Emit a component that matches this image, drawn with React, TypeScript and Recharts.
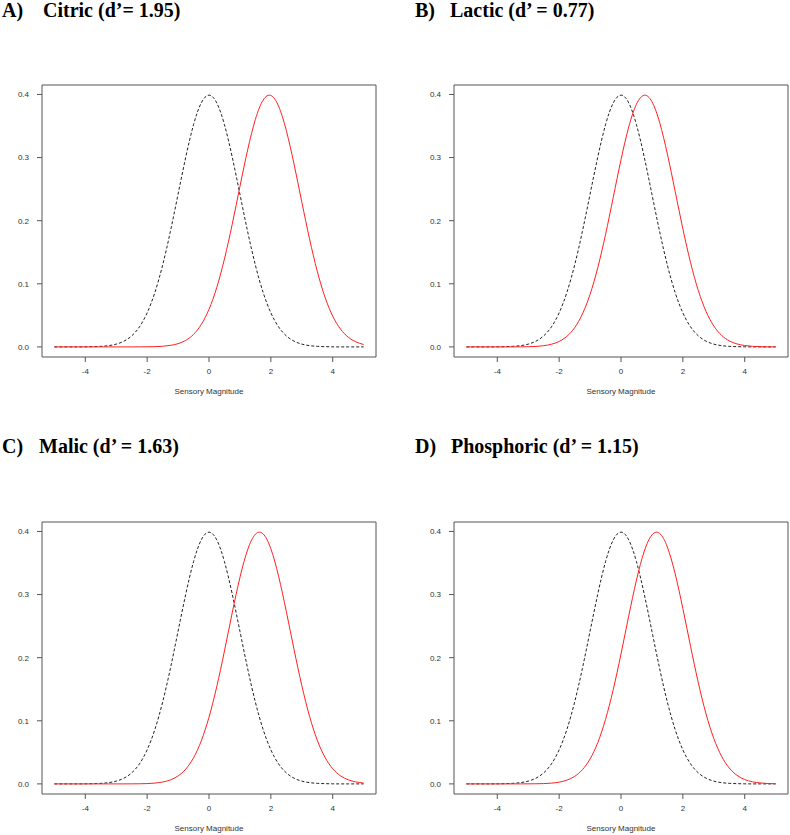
import React from "react";
import { LineChart, Line, XAxis, YAxis, ReferenceArea } from "recharts";

// sensory magnitude grid (x positions read at 0.25 steps)
const magnitudes = [
  -5, -4.75, -4.5, -4.25, -4, -3.75, -3.5, -3.25, -3, -2.75, -2.5, -2.25, -2, -1.75, -1.5, -1.25, -1, -0.75, -0.5, -0.25,
  0, 0.25, 0.5, 0.75, 1, 1.25, 1.5, 1.75, 2, 2.25, 2.5, 2.75, 3, 3.25, 3.5, 3.75, 4, 4.25, 4.5, 4.75, 5,
];

// reference (water) distribution, black dashed, same in all panels
const referenceDensity = [
  0, 0, 0, 0, 0.0001, 0.0004, 0.0009, 0.002, 0.0044, 0.0091, 0.0175, 0.0317, 0.054, 0.0863, 0.1295, 0.1826, 0.242, 0.3011, 0.3521, 0.3867,
  0.3989, 0.3867, 0.3521, 0.3011, 0.242, 0.1826, 0.1295, 0.0863, 0.054, 0.0317, 0.0175, 0.0091, 0.0044, 0.002, 0.0009, 0.0004, 0.0001, 0, 0, 0, 0,
];

const citricDensity = [
  0, 0, 0, 0, 0, 0, 0, 0, 0, 0, 0, 0.0001, 0.0002, 0.0004, 0.001, 0.0024, 0.0051, 0.0104, 0.0198, 0.0355,
  0.0596, 0.094, 0.1394, 0.1942, 0.2541, 0.3123, 0.3605, 0.391, 0.3984, 0.3814, 0.3429, 0.2897, 0.2299, 0.1714, 0.12, 0.079, 0.0488, 0.0283, 0.0155, 0.0079, 0.0038,
];

const lacticDensity = [
  0, 0, 0, 0, 0, 0, 0, 0.0001, 0.0003, 0.0008, 0.0019, 0.0042, 0.0086, 0.0167, 0.0303, 0.0519, 0.0833, 0.1257, 0.1781, 0.2371,
  0.2966, 0.3485, 0.3846, 0.3988, 0.3885, 0.3555, 0.3056, 0.2468, 0.1872, 0.1334, 0.0894, 0.0562, 0.0332, 0.0184, 0.0096, 0.0047, 0.0022, 0.0009, 0.0004, 0.0001, 0.0001,
];

const malicDensity = [
  0, 0, 0, 0, 0, 0, 0, 0, 0, 0, 0.0001, 0.0002, 0.0005, 0.0013, 0.003, 0.0063, 0.0126, 0.0235, 0.0413, 0.0681,
  0.1057, 0.1539, 0.2107, 0.2709, 0.3271, 0.3711, 0.3956, 0.3961, 0.3725, 0.3291, 0.2732, 0.2131, 0.1561, 0.1074, 0.0694, 0.0422, 0.0241, 0.0129, 0.0065, 0.0031, 0.0014,
];

const phosphoricDensity = [
  0, 0, 0, 0, 0, 0, 0, 0, 0.0001, 0.0002, 0.0005, 0.0012, 0.0028, 0.006, 0.0119, 0.0224, 0.0396, 0.0656, 0.1023, 0.1497,
  0.2059, 0.2661, 0.323, 0.3683, 0.3945, 0.3969, 0.3752, 0.3332, 0.278, 0.2179, 0.1604, 0.1109, 0.0721, 0.044, 0.0252, 0.0136, 0.0069, 0.0033, 0.0015, 0.0006, 0.0002,
];

const xTicks = [-4, -2, 0, 2, 4];
const yTicks = [0, 0.1, 0.2, 0.3, 0.4];

const panels = [
  { letter: "A)", title: "Citric (d\u2019= 1.95)", density: citricDensity, left: 0, top: 0, titleX: 43 },
  { letter: "B)", title: "Lactic (d\u2019 = 0.77)", density: lacticDensity, left: 412, top: 0, titleX: 450 },
  { letter: "C)", title: "Malic (d\u2019 = 1.63)", density: malicDensity, left: 0, top: 437, titleX: 39 },
  { letter: "D)", title: "Phosphoric (d\u2019 = 1.15)", density: phosphoricDensity, left: 412, top: 437, titleX: 451 },
];

const tickStyle = { fill: "#333", fontSize: 8, fontFamily: "Liberation Sans, Arial, sans-serif" };

const titleStyle: React.CSSProperties = {
  position: "absolute",
  fontFamily: "Liberation Serif, Times New Roman, serif",
  fontWeight: "bold",
  fontSize: 20,
  lineHeight: "20px",
  color: "#000",
  whiteSpace: "nowrap",
};

const Panel: React.FC<{ density: number[] }> = ({ density }) => {
  const data = magnitudes.map((x, i) => ({ x, ref: referenceDensity[i], acid: density[i] }));
  return (
    <LineChart width={395} height={398} data={data} margin={{ top: 85, right: 19, bottom: 0, left: 0 }}>
      <XAxis
        dataKey="x"
        type="number"
        domain={[-5.4, 5.4]}
        ticks={xTicks}
        allowDataOverflow
        axisLine={false}
        tickLine={{ stroke: "#555" }}
        tickSize={5}
        tickMargin={6}
        height={41}
        tick={tickStyle}
        label={{ value: "Sensory Magnitude", position: "insideBottom", offset: 4, ...tickStyle }}
      />
      <YAxis
        type="number"
        domain={[-0.016, 0.415]}
        ticks={yTicks}
        allowDataOverflow
        axisLine={false}
        tickLine={{ stroke: "#555" }}
        tickSize={5}
        tickMargin={8}
        width={42}
        tick={tickStyle}
        tickFormatter={(v: number) => v.toFixed(1)}
      />
      <ReferenceArea x1={-5.4} x2={5.4} y1={-0.016} y2={0.415} fill="none" stroke="#555" strokeWidth={1} />
      <Line
        type="natural"
        dataKey="ref"
        stroke="#222"
        strokeWidth={1}
        strokeDasharray="3 2"
        dot={false}
        isAnimationActive={false}
      />
      <Line type="natural" dataKey="acid" stroke="#ff2020" strokeWidth={1} dot={false} isAnimationActive={false} />
    </LineChart>
  );
};

export default function App() {
  return (
    <div style={{ position: "absolute", left: 0, top: 0, width: 790, height: 835, overflow: "hidden", background: "#fff" }}>
      {panels.map((p) => (
        <React.Fragment key={p.letter}>
          <div style={{ ...titleStyle, left: p.left === 0 ? 2 : 415, top: p.top === 0 ? 0 : 436 }}>{p.letter}</div>
          <div style={{ ...titleStyle, left: p.titleX, top: p.top === 0 ? 0 : 436 }}>{p.title}</div>
          <div style={{ position: "absolute", left: p.left, top: p.top }}>
            <Panel density={p.density} />
          </div>
        </React.Fragment>
      ))}
    </div>
  );
}
